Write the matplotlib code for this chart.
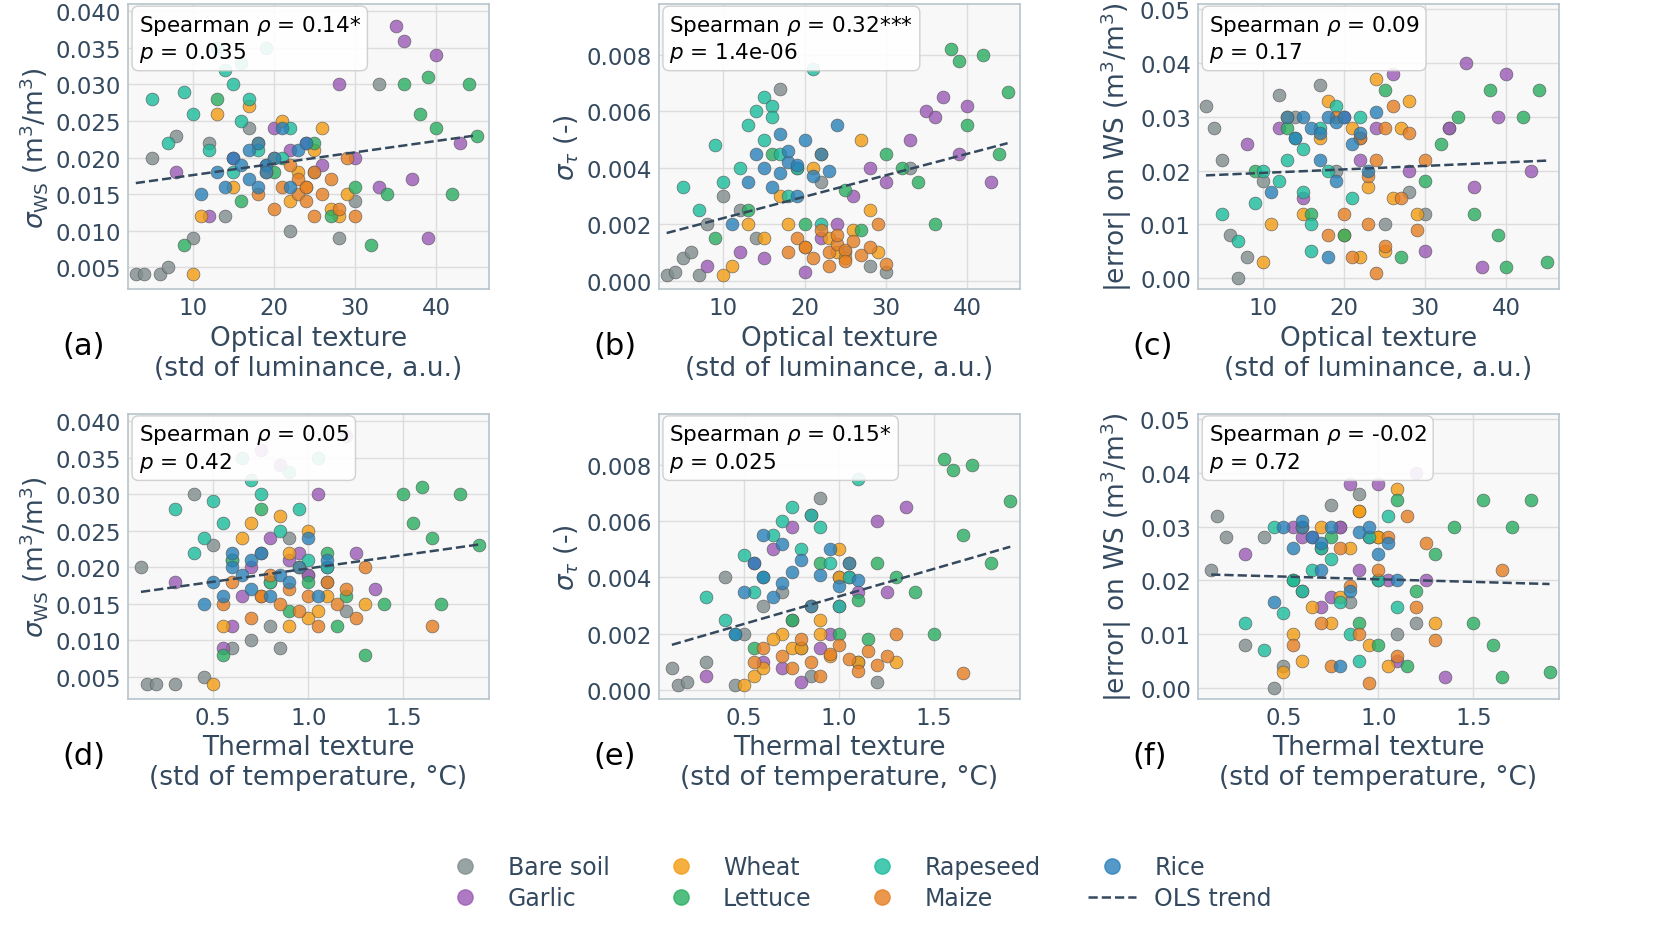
import numpy as np
import matplotlib.pyplot as plt

classes = ['Bare soil', 'Garlic', 'Wheat', 'Lettuce', 'Rapeseed', 'Maize', 'Rice']
colors = ['#7f8c8d', '#9b59b6', '#f39c12', '#27ae60', '#1abc9c', '#e67e22', '#2980b9']

optical = {
    'Bare soil': [3, 4, 5, 6, 7, 8, 10, 12, 14, 17, 19, 22, 25, 28, 30, 33],
    'Garlic': [8, 12, 15, 20, 22, 24, 26, 28, 30, 33, 35, 36, 37, 39, 40, 43],
    'Wheat': [10, 11, 13, 15, 17, 18, 20, 21, 22, 23, 24, 25, 26, 27, 28, 29],
    'Lettuce': [9, 13, 16, 20, 25, 27, 30, 32, 34, 36, 38, 39, 40, 42, 44, 45],
    'Rapeseed': [5, 7, 9, 10, 12, 13, 14, 15, 15, 16, 16, 17, 18, 19, 21, 22],
    'Maize': [18, 19, 20, 21, 22, 23, 23, 24, 24, 25, 25, 26, 27, 28, 29, 30],
    'Rice': [11, 13, 14, 15, 16, 17, 17, 18, 18, 19, 19, 20, 21, 22, 23, 24],
}
thermal = {
    'Bare soil': [0.15, 0.2, 0.12, 0.3, 0.45, 0.5, 0.6, 0.75, 0.8, 0.9, 1.0, 0.7, 1.1, 0.85, 1.2, 0.4],
    'Garlic': [0.3, 0.6, 0.7, 0.8, 0.9, 0.95, 1.0, 1.05, 1.1, 0.65, 1.2, 0.75, 1.35, 0.55, 0.85, 1.25],
    'Wheat': [0.5, 0.55, 0.7, 0.75, 0.85, 0.9, 0.95, 1.0, 1.05, 0.8, 1.1, 0.6, 0.65, 1.0, 0.9, 1.3],
    'Lettuce': [0.55, 0.75, 0.9, 1.0, 1.1, 1.15, 1.2, 1.3, 1.4, 1.5, 1.55, 1.6, 1.65, 1.7, 1.8, 1.9],
    'Rapeseed': [0.3, 0.4, 0.5, 0.55, 0.6, 0.65, 0.7, 0.75, 0.8, 0.85, 0.9, 0.95, 1.0, 1.05, 1.1, 0.45],
    'Maize': [0.55, 0.6, 0.7, 0.75, 0.8, 0.85, 0.9, 0.95, 1.0, 1.05, 1.1, 1.15, 1.2, 1.25, 1.3, 1.65],
    'Rice': [0.45, 0.5, 0.55, 0.6, 0.65, 0.7, 0.7, 0.75, 0.8, 0.85, 0.9, 0.95, 1.0, 1.05, 1.1, 0.6],
}
sigma_ws = {
    'Bare soil': [0.004, 0.004, 0.02, 0.004, 0.005, 0.023, 0.009, 0.022, 0.012, 0.024, 0.019, 0.01, 0.018, 0.009, 0.014, 0.03],
    'Garlic': [0.018, 0.012, 0.02, 0.024, 0.021, 0.022, 0.019, 0.03, 0.02, 0.016, 0.038, 0.036, 0.017, 0.009, 0.034, 0.022],
    'Wheat': [0.004, 0.012, 0.026, 0.016, 0.027, 0.022, 0.02, 0.025, 0.014, 0.018, 0.016, 0.021, 0.024, 0.013, 0.012, 0.015],
    'Lettuce': [0.008, 0.028, 0.014, 0.018, 0.022, 0.012, 0.016, 0.008, 0.015, 0.03, 0.026, 0.031, 0.024, 0.015, 0.03, 0.023],
    'Rapeseed': [0.028, 0.022, 0.029, 0.026, 0.021, 0.035, 0.032, 0.03, 0.018, 0.025, 0.033, 0.028, 0.021, 0.035, 0.02, 0.024],
    'Maize': [0.015, 0.018, 0.013, 0.016, 0.019, 0.015, 0.017, 0.014, 0.016, 0.012, 0.018, 0.015, 0.017, 0.013, 0.02, 0.012],
    'Rice': [0.015, 0.018, 0.016, 0.02, 0.019, 0.021, 0.017, 0.022, 0.016, 0.019, 0.018, 0.02, 0.024, 0.016, 0.021, 0.022],
}
sigma_tau = {
    'Bare soil': [0.0002, 0.0003, 0.0008, 0.001, 0.0002, 0.002, 0.003, 0.0025, 0.0015, 0.0068, 0.004, 0.0035, 0.001, 0.0005, 0.0003, 0.004],
    'Garlic': [0.0005, 0.001, 0.0008, 0.0003, 0.0015, 0.002, 0.003, 0.004, 0.0035, 0.005, 0.006, 0.0058, 0.0065, 0.0045, 0.0062, 0.0035],
    'Wheat': [0.0002, 0.0005, 0.002, 0.0015, 0.003, 0.002, 0.0012, 0.004, 0.0045, 0.0015, 0.001, 0.0008, 0.0018, 0.005, 0.0025, 0.001],
    'Lettuce': [0.0015, 0.0025, 0.0045, 0.002, 0.0032, 0.0018, 0.0045, 0.004, 0.0035, 0.002, 0.0082, 0.0078, 0.0055, 0.008, 0.0045, 0.0067],
    'Rapeseed': [0.0033, 0.0025, 0.0048, 0.0035, 0.004, 0.0055, 0.006, 0.0065, 0.005, 0.0062, 0.0058, 0.0045, 0.003, 0.004, 0.0075, 0.002],
    'Maize': [0.001, 0.0015, 0.0012, 0.0008, 0.0018, 0.001, 0.0005, 0.0013, 0.0016, 0.0011, 0.0007, 0.0014, 0.0009, 0.0012, 0.002, 0.0006],
    'Rice': [0.002, 0.0035, 0.0045, 0.004, 0.0033, 0.0052, 0.0038, 0.0042, 0.0046, 0.003, 0.0041, 0.005, 0.0037, 0.0045, 0.0039, 0.0055],
}
abs_err = {
    'Bare soil': [0.032, 0.028, 0.022, 0.008, 0.0, 0.004, 0.018, 0.034, 0.03, 0.036, 0.02, 0.026, 0.01, 0.016, 0.012, 0.028],
    'Garlic': [0.025, 0.028, 0.015, 0.03, 0.022, 0.028, 0.038, 0.02, 0.005, 0.028, 0.04, 0.017, 0.002, 0.03, 0.038, 0.02],
    'Wheat': [0.003, 0.01, 0.03, 0.012, 0.026, 0.033, 0.008, 0.028, 0.004, 0.017, 0.037, 0.005, 0.015, 0.028, 0.033, 0.012],
    'Lettuce': [0.02, 0.028, 0.012, 0.008, 0.035, 0.004, 0.018, 0.025, 0.03, 0.012, 0.035, 0.008, 0.002, 0.03, 0.035, 0.003],
    'Rapeseed': [0.012, 0.007, 0.014, 0.02, 0.018, 0.022, 0.026, 0.024, 0.016, 0.01, 0.005, 0.028, 0.02, 0.032, 0.015, 0.03],
    'Maize': [0.008, 0.03, 0.012, 0.004, 0.026, 0.019, 0.01, 0.001, 0.022, 0.028, 0.006, 0.032, 0.015, 0.027, 0.009, 0.022],
    'Rice': [0.016, 0.03, 0.026, 0.03, 0.028, 0.027, 0.022, 0.03, 0.004, 0.018, 0.029, 0.03, 0.025, 0.027, 0.02, 0.031],
}

stats_text = [
    'Spearman $\\rho$ = 0.14*\n$p$ = 0.035',
    'Spearman $\\rho$ = 0.32***\n$p$ = 1.4e-06',
    'Spearman $\\rho$ = 0.09\n$p$ = 0.17',
    'Spearman $\\rho$ = 0.05\n$p$ = 0.42',
    'Spearman $\\rho$ = 0.15*\n$p$ = 0.025',
    'Spearman $\\rho$ = -0.02\n$p$ = 0.72',
]
panel_labels = ['(a)', '(b)', '(c)', '(d)', '(e)', '(f)']

txt = '#34495e'
plt.rcParams['font.family'] = 'DejaVu Sans'
plt.rcParams['text.color'] = txt
plt.rcParams['axes.labelcolor'] = txt
plt.rcParams['xtick.color'] = txt
plt.rcParams['ytick.color'] = txt

fig = plt.figure(figsize=(16.8, 9.28), dpi=100)
lefts = [0.076, 0.392, 0.713]
bottoms = [0.6875, 0.246]
w, h = 0.215, 0.307

xsets = [optical, thermal]
ysets = [sigma_ws, sigma_tau, abs_err]
ylabels = ['$\\sigma_{\\mathrm{WS}}$ (m$^3$/m$^3$)', '$\\sigma_{\\tau}$ (-)', '|error| on WS (m$^3$/m$^3$)']
xlabels = ['Optical texture\n(std of luminance, a.u.)', 'Thermal texture\n(std of temperature, °C)']
xlims = [(2, 46.5), (0.05, 1.95)]
xticks = [[10, 20, 30, 40], [0.5, 1.0, 1.5]]
ylims = [(0.002, 0.041), (-0.0003, 0.0098), (-0.002, 0.051)]
yticks = [np.arange(0.005, 0.0401, 0.005), np.arange(0, 0.0081, 0.002), np.arange(0, 0.0501, 0.01)]
yfmt = ['%.3f', '%.3f', '%.2f']

k = 0
for r in range(2):
    for c in range(3):
        ax = fig.add_axes([lefts[c], bottoms[r], w, h])
        ax.set_facecolor('#f8f8f8')
        ax.grid(True, color='#dddddd', lw=1)
        ax.set_axisbelow(True)
        for s in ax.spines.values():
            s.set_color('#b8c4cc')
            s.set_linewidth(1.2)
        allx, ally = [], []
        for cl, col in zip(classes, colors):
            xs = xsets[r][cl]
            ys = ysets[c][cl]
            ax.scatter(xs, ys, s=85, color=col, alpha=0.8, edgecolor='#555555', linewidth=0.5, zorder=3)
            allx += xs
            ally += ys
        coef = np.polyfit(allx, ally, 1)
        xx = np.array([min(allx), max(allx)])
        ax.plot(xx, np.polyval(coef, xx), '--', color=txt, lw=1.8, zorder=4)
        ax.set_xlim(*xlims[r])
        ax.set_ylim(*ylims[c])
        ax.set_xticks(xticks[r])
        ax.set_xticklabels([str(t) for t in xticks[r]])
        ax.set_yticks(yticks[c])
        ax.set_yticklabels([yfmt[c] % t for t in yticks[c]])
        ax.tick_params(length=0, labelsize=16.5, pad=5)
        ax.set_xlabel(xlabels[r], fontsize=19, labelpad=4)
        ax.set_ylabel(ylabels[c], fontsize=19, labelpad=4)
        ax.text(0.03, 0.97, stats_text[k], transform=ax.transAxes, va='top', ha='left', fontsize=15.5,
                color='black', zorder=5,
                bbox=dict(boxstyle='round,pad=0.3', fc='white', ec='#cccccc', alpha=0.9))
        ax.text(-0.18, -0.2, panel_labels[k], transform=ax.transAxes, fontsize=22, color='black', va='center')
        k += 1

handles = [plt.Line2D([], [], marker='o', ls='', color=col, markersize=11, alpha=0.8) for col in colors]
handles.append(plt.Line2D([], [], ls='--', color=txt, lw=1.8))
labels = classes + ['OLS trend']
fig.legend(handles, labels, loc='lower center', ncol=4, frameon=False, fontsize=17,
           bbox_to_anchor=(0.51, -0.005), columnspacing=2.0, handletextpad=0.8, labelspacing=0.3)

plt.savefig('out.png', dpi=100)
